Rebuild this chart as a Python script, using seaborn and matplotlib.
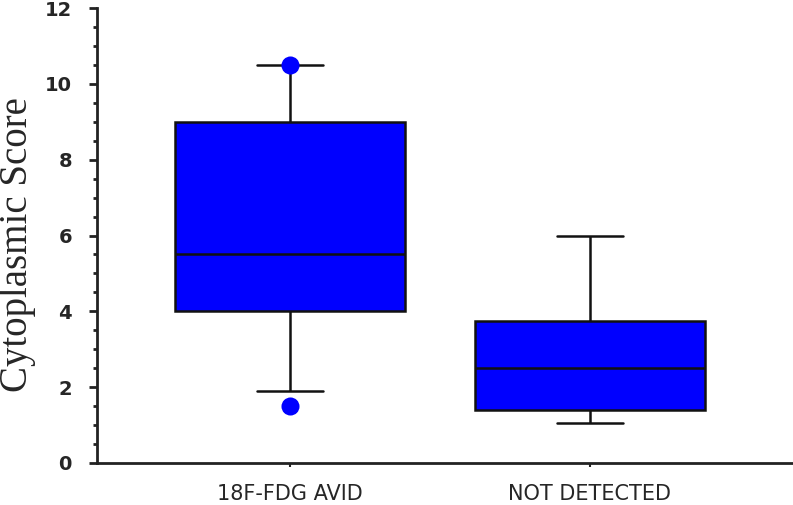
import pandas as pd
import matplotlib.pyplot as plt
import seaborn as sns
from matplotlib.ticker import MultipleLocator

sns.set_style("ticks")

# Box summary values: lower whisker, Q1, median, Q3, upper whisker
groups = ["18F-FDG AVID", "NOT DETECTED"]
avid_stats = [1.9, 4.0, 5.5, 9.0, 10.5]
notdet_stats = [1.05, 1.4, 2.5, 3.75, 6.0]

# Individual points drawn as dots
avid_points = [10.5, 1.5]
notdet_points = []

df = pd.DataFrame({
    "group": [groups[0]] * len(avid_stats) + [groups[1]] * len(notdet_stats),
    "score": avid_stats + notdet_stats,
})
pts = pd.DataFrame({
    "group": [groups[0]] * len(avid_points) + [groups[1]] * len(notdet_points),
    "score": avid_points + notdet_points,
})

fig = plt.figure(figsize=(7.93, 5.05), dpi=100)
ax = fig.add_axes([0.1223, 0.0832, 0.8777, 0.9008])

sns.boxplot(
    data=df, x="group", y="score", order=groups, ax=ax,
    whis=(0, 100), width=0.767, color="#0000ff", saturation=1,
    showfliers=False,
    boxprops=dict(facecolor="#0000ff", edgecolor="#111111", linewidth=1.8),
    medianprops=dict(color="#111111", linewidth=1.8),
    whiskerprops=dict(color="#111111", linewidth=1.8),
    capprops=dict(color="#111111", linewidth=1.8),
)
# narrow the whisker caps
for line in ax.lines:
    xd = line.get_xdata()
    if len(xd) == 2 and xd[0] != xd[1] and abs(xd[1] - xd[0]) < 0.5:
        c = (xd[0] + xd[1]) / 2
        line.set_xdata([c - 0.11, c + 0.11])

sns.stripplot(
    data=pts, x="group", y="score", order=groups, ax=ax,
    jitter=False, color="#0000ff", size=13, linewidth=0, zorder=5,
)

ax.set_ylim(0, 12)
ax.set_xlim(-0.643, 1.677)
ax.yaxis.set_major_locator(MultipleLocator(2))
ax.yaxis.set_minor_locator(MultipleLocator(0.5))

ax.set_xlabel("")
ax.set_ylabel("Cytoplasmic Score", fontsize=28, family="Liberation Serif")
ax.yaxis.set_label_coords(-0.087, 0.48)

for s in ["top", "right"]:
    ax.spines[s].set_visible(False)
for s in ["left", "bottom"]:
    ax.spines[s].set_color("#222222")
    ax.spines[s].set_linewidth(2)

ax.tick_params(axis="y", which="major", length=6, width=2, color="#222222",
               labelsize=14, pad=12)
ax.tick_params(axis="y", which="minor", length=3, width=2, color="#222222")
ax.tick_params(axis="x", which="major", length=3, width=1.5, color="#222222",
               labelsize=15, pad=12)
for lab in ax.get_yticklabels():
    lab.set_fontweight("bold")

fig.savefig("out.png", dpi=100)
